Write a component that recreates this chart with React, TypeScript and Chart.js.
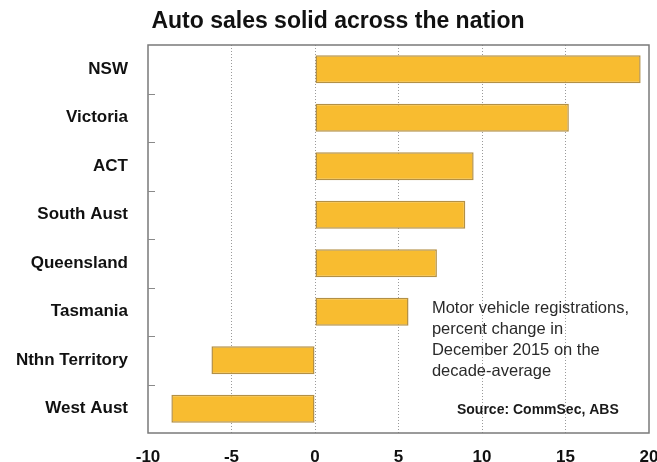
import React, { useEffect, useRef } from "react";
import { Chart, registerables } from "chart.js";

Chart.register(...registerables);

const TITLE = "Auto sales solid across the nation";
const CATEGORIES = ["NSW", "Victoria", "ACT", "South Aust", "Queensland", "Tasmania", "Nthn Territory", "West Aust"];
const VALUES = [19.5, 15.2, 9.5, 9.0, 7.3, 5.6, -6.2, -8.6];
const X_MIN = -10;
const X_MAX = 20;
const X_STEP = 5;
const NOTE_LINES = ["Motor vehicle registrations,", "percent change in", "December 2015 on the", "decade-average"];
const SOURCE = "Source: CommSec, ABS";

const FONT = "'Liberation Sans', Arial, Helvetica, sans-serif";

const decorPlugin = {
  id: "decor",
  afterDraw(chart: any) {
    const { ctx, chartArea } = chart;
    const { left, right, top, bottom } = chartArea;
    const y = chart.scales.y;
    ctx.save();
    // frame
    ctx.strokeStyle = "#7a7a7a";
    ctx.lineWidth = 1.5;
    ctx.strokeRect(left, top, right - left, bottom - top);
    // inner category ticks
    ctx.lineWidth = 1;
    ctx.strokeStyle = "#8a8a8a";
    for (let i = 1; i < CATEGORIES.length; i++) {
      const yy = Math.round((y.getPixelForValue(i - 1) + y.getPixelForValue(i)) / 2) + 0.5;
      ctx.beginPath();
      ctx.moveTo(left, yy);
      ctx.lineTo(left + 7, yy);
      ctx.stroke();
    }
    // title
    ctx.fillStyle = "#111";
    ctx.font = `bold 23px ${FONT}`;
    ctx.textAlign = "center";
    ctx.textBaseline = "middle";
    ctx.fillText(TITLE, 338, 22);
    // note
    const x = chart.scales.x;
    ctx.font = `16.5px ${FONT}`;
    ctx.fillStyle = "#2a2a2a";
    ctx.textAlign = "left";
    const nx = x.getPixelForValue(7);
    NOTE_LINES.forEach((l, i) => ctx.fillText(l, nx, 308 + i * 21));
    ctx.font = `bold 14px ${FONT}`;
    ctx.fillStyle = "#1a1a1a";
    ctx.fillText(SOURCE, x.getPixelForValue(8.5), 410);
    ctx.restore();
  },
};

export default function App() {
  const ref = useRef<HTMLCanvasElement>(null);
  useEffect(() => {
    const chart = new Chart(ref.current as HTMLCanvasElement, {
      type: "bar",
      data: {
        labels: CATEGORIES,
        datasets: [
          {
            data: VALUES,
            backgroundColor: "#f8bc30",
            borderColor: "#b39045",
            borderWidth: 1.5,
            borderSkipped: false,
            categoryPercentage: 1,
            barPercentage: 0.58,
          },
        ],
      },
      options: {
        indexAxis: "y",
        animation: false,
        responsive: false,
        maintainAspectRatio: false,
        layout: { padding: { top: 45, right: 8, bottom: 0, left: 0 } },
        plugins: { legend: { display: false }, tooltip: { enabled: false }, title: { display: false } },
        scales: {
          x: {
            type: "linear",
            min: X_MIN,
            max: X_MAX,
            ticks: {
              stepSize: X_STEP,
              padding: 14,
              color: "#111",
              font: { family: FONT, size: 17, weight: "bold" },
            },
            grid: {
              drawTicks: false,
              lineWidth: 1,
              color: (c: any) => (c.tick && (c.tick.value === X_MIN || c.tick.value === X_MAX) ? "rgba(0,0,0,0)" : "#9a9a9a"),
            },
            border: { display: false, dash: [1, 2] },
            afterFit: (s: any) => {
              s.height = 29;
              s.paddingLeft = 0;
              s.paddingRight = 0;
            },
          },
          y: {
            type: "category",
            offset: true,
            ticks: {
              padding: 20,
              color: "#111",
              font: { family: FONT, size: 17, weight: "bold" },
            },
            grid: { display: false, drawTicks: false },
            border: { display: false },
            afterFit: (s: any) => {
              s.width = 148;
              s.paddingTop = 0;
              s.paddingBottom = 0;
            },
          },
        },
      } as any,
      plugins: [decorPlugin],
    });
    return () => chart.destroy();
  }, []);
  return (
    <div style={{ position: "absolute", left: 0, top: 0, width: 657, height: 462, background: "#fff" }}>
      <canvas ref={ref} width={657} height={462} style={{ width: 657, height: 462 }} />
    </div>
  );
}
